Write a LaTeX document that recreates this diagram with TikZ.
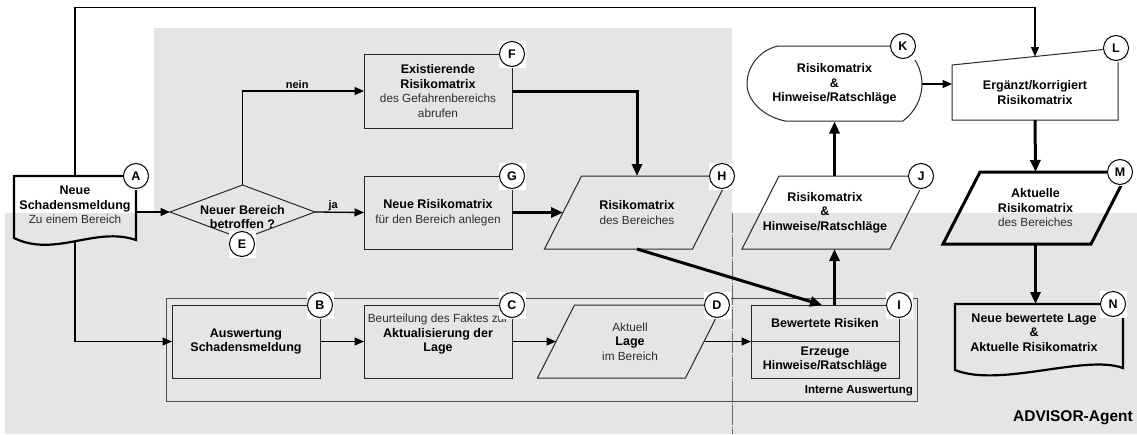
\documentclass[tikz,border=0pt]{standalone}
\usepackage{fontspec}
\setmainfont{Liberation Sans}
\usetikzlibrary{arrows.meta,calc,shapes.geometric}

\definecolor{bandgray}{RGB}{229,229,229}
\definecolor{inkline}{RGB}{40,40,40}
\definecolor{inktext}{RGB}{45,45,45}

\tikzset{
  txt/.style={align=center, font=\fontsize{11.8}{14.5}\selectfont, text=inktext, inner sep=0pt, outer sep=0pt},
  btxt/.style={txt, font=\bfseries\fontsize{12.5}{14.5}\selectfont, text=black},
  body/.style={txt, minimum width=148pt, minimum height=73pt},
  boxed/.style={body, draw=inkline, line width=1pt},
  outline/.style={draw=inkline, line width=1pt},
  tagsq/.style={fill=white, minimum size=27pt, inner sep=0pt, outer sep=0pt},
  tagc/.style={circle, draw=black, line width=1pt, fill=white, minimum size=25pt, inner sep=0pt, font=\bfseries\fontsize{12.5}{12.5}\selectfont},
  lab/.style={font=\bfseries\fontsize{11}{13}\selectfont, inner sep=1pt},
  flow/.style={draw=black, line width=1.3pt, -{Triangle[length=9.5pt,width=8pt]}},
  bigflow/.style={draw=black, line width=3pt, -{Triangle[length=12pt,width=10pt]}},
}
% bold line inside a multi-line node
\newcommand\bt[1]{{\bfseries\fontsize{12.5}{14.5}\selectfont\color{black}#1}}
% parallelogram drawn around a rectangular body node
\newcommand\paraoutline[2][]{\draw[#1] ($(#2.south west)+(-18.5,0)$) -- ($(#2.south east)+(-18.5,0)$) -- ($(#2.north east)+(18.5,0)$) -- ($(#2.north west)+(18.5,0)$) -- cycle;}
% lettered marker: white square with a circle on top
\newcommand\tagmark[3]{\node[tagsq] (#1s) at (#2) {}; \node[tagc] (#1) at (#2) {#3};}

\begin{document}
\begin{tikzpicture}[x=1pt,y=-1pt]
\useasboundingbox (0,0) rectangle (1137,434);

% shaded areas and separator
\fill[bandgray] (154,28) rectangle (732,213);
\fill[bandgray] (5,213) rectangle (1137,434);
\draw[black!60, line width=0.6pt, dash pattern=on 20pt off 1.5pt on 1pt off 1.5pt] (732,213) -- (732,434);

% internal evaluation frame
\node[draw=black!70, line width=1pt, minimum width=751pt, minimum height=103pt, inner sep=0pt, outer sep=0pt] (IA) at (541.5,349.5) {};
\node[lab, anchor=east, font=\bfseries\fontsize{11.5}{13}\selectfont, inner sep=0pt] (IAlabel) at (913,391) {Interne Auswertung};

% A: incoming report (document)
\node[txt, minimum width=122pt, minimum height=65pt] (A) at (75,208.5) {};
\draw[line width=2.2pt] (14,176) -- (136,176) -- (136,240) .. controls (95,226) and (55,258) .. (14,238) -- cycle;
\node[txt] (Atext) at (75,205) {\bt{Neue}\\\bt{Schadensmeldung}\\Zu einem Bereich};

% E: decision
\node[diamond, draw=inkline, line width=1pt, minimum width=145pt, minimum height=54pt, inner sep=0pt, outer sep=0pt] (E) at (242.5,212) {};
\node[btxt] (Etext) at (242.5,217) {Neuer Bereich\\betroffen ?};

% F, G: process boxes
\node[boxed, minimum height=74pt] (F) at (438,91) {\bt{Existierende}\\\bt{Risikomatrix}\\des Gefahrenbereichs\\abrufen};
\node[boxed] (G) at (438,212.5) {\bt{Neue Risikomatrix}\\für den Bereich anlegen};

% H: data
\node[body] (H) at (637,212.5) {\bt{Risikomatrix}\\des Bereiches};
\paraoutline[outline]{H}

% B, C: process boxes
\node[boxed] (B) at (246,341.5) {\bt{Auswertung}\\\bt{Schadensmeldung}};
\node[boxed] (C) at (438,341.5) {};
\node[txt] (Ctext) at (438,334.5) {Beurteilung des Faktes zur\\\bt{Aktualisierung der}\\\bt{Lage}};

% D: data
\node[body] (D) at (630,341.5) {Aktuell\\\bt{Lage}\\im Bereich};
\paraoutline[outline]{D}

% I: split process box
\node[boxed] (I) at (825,341.5) {};
\draw[outline] (I.west) -- (I.east);
\node[btxt] (Itop) at (825,323) {Bewertete Risiken};
\node[btxt] (Ibot) at (825,359.5) {Erzeuge\\Hinweise/Ratschläge};

% J: data
\node[body] (J) at (834.5,212.5) {};
\paraoutline[outline]{J}
\node[btxt] (Jtext) at (825,212.5) {Risikomatrix\\\&\\Hinweise/Ratschläge};

% K: display
\node[btxt, minimum width=175pt, minimum height=75pt] (K) at (834.5,84) {Risikomatrix\\\&\\Hinweise/Ratschläge};
\draw[outline] (778,46) -- (903,46) .. controls (915,56) and (922,70) .. (922,84) .. controls (922,98) and (915,112) .. (903,121) -- (785,121) .. controls (762,116) and (747,100) .. (747,84) .. controls (747,66) and (760,50) .. (778,46) -- cycle;

% L: manual input
\node[body, minimum width=166pt, minimum height=72pt] (L) at (1035,84) {};
\coordinate (Lnw) at ($(L.north west)+(0,17)$);
\draw[outline] (L.south west) -- (L.south east) -- (L.north east) -- (Lnw) -- cycle;
\node[btxt] (Ltext) at (1035,92.5) {Ergänzt/korrigiert\\Risikomatrix};
\coordinate (Ltop) at ($(Lnw)!0.5!(L.north east)$);
\coordinate (bend) at ($(Ltop)+(0,-49)$);

% M: current matrix (data)
\node[body, minimum height=72pt] (M) at (1035.5,208) {\bt{Aktuelle}\\\bt{Risikomatrix}\\des Bereiches};
\paraoutline[draw=black, line width=3pt]{M}

% N: result document
\node[body, minimum width=168pt, minimum height=66pt] (N) at (1039,337) {};
\draw[line width=2.2pt] (955,304) -- (1123,304) -- (1123,368) .. controls (1085,354) and (1000,388) .. (955,370) -- cycle;
\node[btxt] (Ntext) at (1034,332.5) {Neue bewertete Lage\\\&\\Aktuelle Risikomatrix};

\node[anchor=east, font=\bfseries\fontsize{15.5}{18}\selectfont, inner sep=0pt] (agent) at (1133,418) {ADVISOR-Agent};

% connectors
\draw[flow] (A.north) |- (bend) -- (Ltop);
\draw[flow] (A.east |- E.west) -- (E.west);
\draw[flow] (A.south) |- (B.west);
\draw[flow] (E.north) |- node[pos=0.725, above=1pt, lab] {nein} (F.west);
\draw[flow] (E.east) -- node[pos=0.37, above=0pt, lab] {ja} (G.west);
\draw[bigflow] (F.east) -| (H.north);
\draw[bigflow] (G.east) -- (H.west);
\draw[bigflow] (H.south) -- ($(I.north)+(-3,0)$);
\draw[bigflow] (J.south |- I.north) -- (J.south);
\draw[bigflow] (J.north) -- (K.south);
\draw[flow] (K.east) -- (L.west);
\draw[bigflow] (L.south) -- (M.north);
\draw[bigflow] (M.south) -- (M.south |- N.north);
\draw[flow] (B.east) -- (C.west);
\draw[flow] (C.east) -- (D.west);
\draw[flow] (D.east) -- (I.west);

% lettered markers
\tagmark{tA}{136,176}{A}
\tagmark{tB}{320,305}{B}
\tagmark{tC}{512,305}{C}
\tagmark{tD}{717,305}{D}
\tagmark{tE}{242,244}{E}
\tagmark{tF}{512,54}{F}
\tagmark{tG}{512,176}{G}
\tagmark{tH}{722,176}{H}
\tagmark{tI}{899,305}{I}
\tagmark{tJ}{921,176}{J}
\tagmark{tK}{903,46}{K}
\tagmark{tL}{1116,48}{L}
\tagmark{tM}{1120,172}{M}
\tagmark{tN}{1113,304}{N}
\end{tikzpicture}
\end{document}
